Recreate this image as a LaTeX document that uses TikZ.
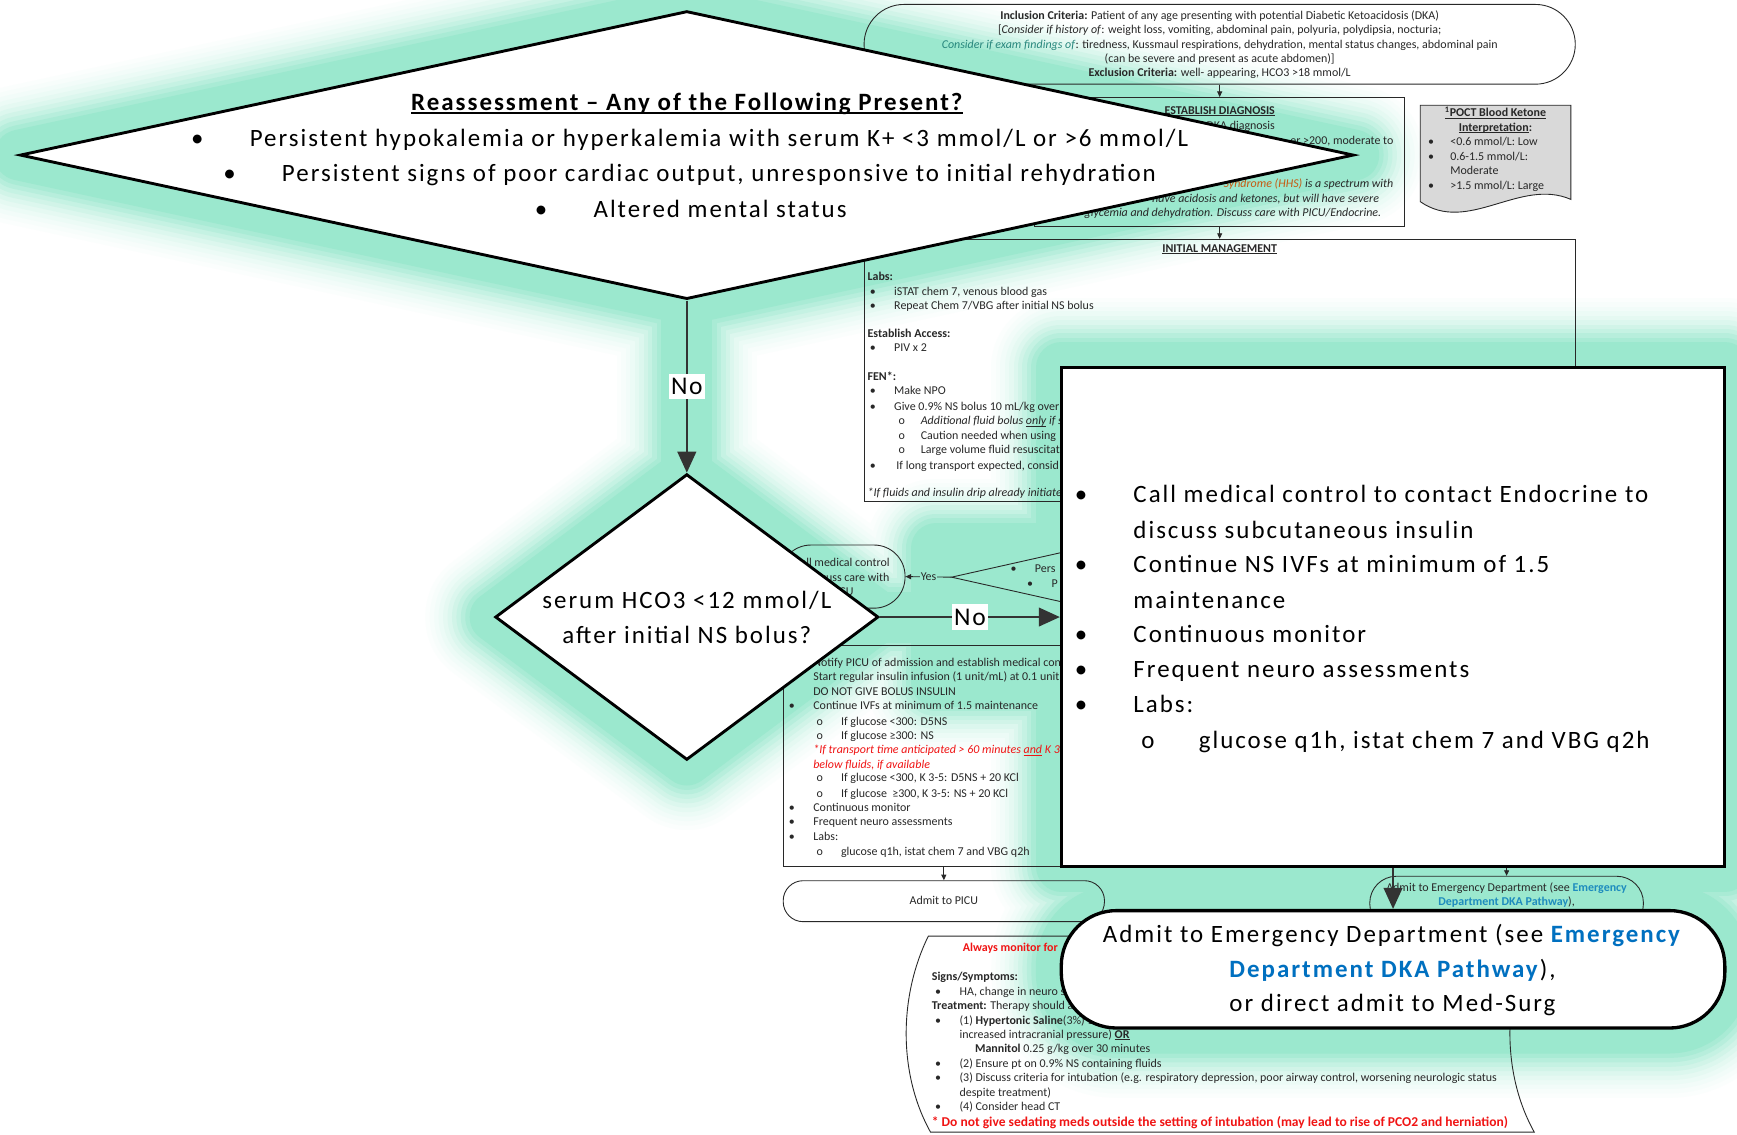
\documentclass[tikz,border=0pt]{standalone}
\usepackage{fontspec}
\setmainfont{Carlito}
\usetikzlibrary{arrows.meta,shapes.geometric}
\definecolor{mint}{RGB}{155,232,206}
\definecolor{linkblue}{RGB}{0,112,192}
\definecolor{smallblue}{RGB}{30,140,190}
\definecolor{tealtxt}{RGB}{40,135,125}
\definecolor{hhs}{RGB}{197,90,17}
\definecolor{redtxt}{RGB}{240,20,20}
\definecolor{ink}{RGB}{40,40,40}
\newcommand\ulx[1]{{\setbox0\hbox{#1}\rlap{\rule[-0.13em]{\wd0}{0.065em}}\box0}}
\newcommand\bb{\makebox[53pt][l]{\textbullet}}
\newcommand\sbb{\makebox[22pt][l]{\textbullet}}
\newcommand\sbp{\makebox[20pt][l]{\textbullet}}
\newcommand\sob{\makebox[20pt][l]{o}}
\newcommand\soc{\makebox[22pt][l]{o}}
\tikzset{
 sm/.style={font=\fontsize{10.8}{13}\selectfont, text=ink, inner sep=0pt, anchor=base west},
 smc/.style={sm, anchor=base},
 sme/.style={sm, anchor=base east},
 bg/.style={font=\fontsize{22.5}{31}\selectfont\addfontfeature{LetterSpace=8}, inner sep=0pt, anchor=base west},
 bgc/.style={bg, anchor=base},
 sbox/.style={draw=ink, line width=0.8pt, inner sep=0pt},
 sline/.style={draw=ink, line width=0.8pt},
 sarrow/.style={sline, -{Triangle[length=5pt,width=4.5pt]}},
 bigshape/.style={draw=black, line width=2.6pt, fill=white, inner sep=0pt},
 barrow/.style={draw=black!80, line width=1.4pt, -{Triangle[length=19pt,width=17pt]}},
 nolabel/.style={fill=white, font=\fontsize{23}{28}\selectfont\addfontfeature{LetterSpace=7}, inner xsep=2pt, inner ysep=4pt},
}
\begin{document}
\begin{tikzpicture}[x=1pt,y=-1pt]
\useasboundingbox[fill=white] (0,0) rectangle (1568,1024);

% ---------- glow ----------
\foreach \gw/\gc in {126/4,118/8,110/13,102/19,94/26,86/35,78/46,70/58,62/72,54/86,46/100}{
 \begin{scope}[draw=mint!\gc, line width=\gw pt, line join=round, line cap=round]
  \draw (620,10)--(1222,140)--(620,270)--(18,140)--cycle;
  \draw (620,270)--(620,428);
  \draw (620,428)--(793,557)--(620,686)--(447,557)--cycle;
  \draw (793,557)--(958,557);
  \draw (958,332) rectangle (1557,782);
  \draw (1257,782)--(1257,822);
  \draw[rounded corners=50pt] (958,822) rectangle (1557,928);
  \draw (845,495) rectangle (958,615);
 \end{scope}
}
\fill[mint] (845,495) rectangle (958,615);

% ---------- small flowchart ----------
\node[sbox, rounded corners=36pt, minimum width=642pt, minimum height=72pt] (inc) at (1101,40) {};
\node[smc] (i1) at (1101,17.5) {\textbf{Inclusion Criteria:} Patient of any age presenting with potential Diabetic Ketoacidosis (DKA)};
\node[smc] (i2) at (1101,30.5) {[\textit{Consider if history of}: weight loss, vomiting, abdominal pain, polyuria, polydipsia, nocturia;};
\node[smc] (i3) at (1101,43.5) {\textcolor{tealtxt}{\textit{Consider if exam findings of}}: tiredness, Kussmaul respirations, dehydration, mental status changes, abdominal pain};
\node[smc] (i4) at (1101,56.5) {(can be severe and present as acute abdomen)]};
\node[smc] (i5) at (1101,69.5) {\textbf{Exclusion Criteria:} well- appearing, HCO3 >18 mmol/L};

\node[sbox, minimum width=334pt, minimum height=116pt] (est) at (1101,146) {};
\draw[sarrow] (inc.south) -- (est.north);
\node[smc] (d0) at (1101,103.5) {\textbf{\ulx{ESTABLISH DIAGNOSIS}}};
\node[sme] (d1) at (1151,116.5) {DKA diagnosis};
\node[sme] (d2) at (1258,130.5) {er >200, moderate to};
\node[sme] (d3) at (1258,169.5) {\textit{\textcolor{hhs}{Syndrome (HHS)} is a spectrum with}};
\node[sme] (d4) at (1245,182.5) {\textit{have acidosis and ketones, but will have severe}};
\node[sme] (d5) at (1247,195.5) {\textit{glycemia and dehydration. Discuss care with PICU/Endocrine.}};

\draw[sline, fill=black!15] (1282,95) -- (1418,95) -- (1418,180) .. controls (1372,160) and (1325,212) .. (1282,182) -- cycle;
\node[smc] (k0) at (1350,105.5) {\textbf{\ulx{\textsuperscript{1}POCT Blood Ketone}}};
\node[smc] (k1) at (1350,118.5) {\textbf{\ulx{Interpretation}:}};
\node[sm] (k2) at (1289,131.5) {\sbp<0.6 mmol/L: Low};
\node[sm] (k3) at (1289,144.5) {\sbp 0.6-1.5 mmol/L:};
\node[sm] (k4) at (1309,157.5) {Moderate};
\node[sm] (k5) at (1289,171.5) {\sbp>1.5 mmol/L: Large};

\node[sbox, minimum width=642pt, minimum height=237pt] (init) at (1101,334.5) {};
\draw[sarrow] (est.south) -- (init.north);
\node[smc] (m0) at (1101,227.5) {\textbf{\ulx{INITIAL MANAGEMENT}}};
\node[sm] (m1) at (783,253.5) {\textbf{Labs:}};
\node[sm] (m2) at (785,266.5) {\sbb iSTAT chem 7, venous blood gas};
\node[sm] (m3) at (785,279.5) {\sbb Repeat Chem 7/VBG after initial NS bolus};
\node[sm] (m4) at (783,304.5) {\textbf{Establish Access:}};
\node[sm] (m5) at (785,317.5) {\sbb PIV x 2};
\node[sm] (m6) at (783,343.5) {\textbf{FEN*:}};
\node[sm] (m7) at (785,356.5) {\sbb Make NPO};
\node[sm] (m8) at (785,370.5) {\sbb Give 0.9\% NS bolus 10 mL/kg over};
\node[sm] (m9) at (811,383.5) {\sob\textit{Additional fluid bolus \ulx{only} if s}};
\node[sm] (m10) at (811,396.5) {\sob Caution needed when using};
\node[sm] (m11) at (811,409.5) {\sob Large volume fluid resuscitat};
\node[sm] (m12) at (785,423.5) {\makebox[24pt][l]{\textbullet}If long transport expected, consid};
\node[sm] (m13) at (783,448.5) {\textit{*If fluids and insulin drip already initiate}};

\coordinate (sdv) at (859,521);
\draw[sline] (1000,489.4) -- (sdv) -- (1000,552.6);
\node[sm] (s1) at (912,516.5) {\sbb Pers};
\node[sm] (s2) at (927,530.5) {\sbb P};
\node[sbox, rounded corners=28pt, minimum width=113pt, minimum height=57pt] (callp) at (760.5,520.5) {};
\node[smc] (cp1) at (760,511.5) {Call medical control};
\node[smc] (cp2) at (760,524.5) {to discuss care with};
\node[smc] (cp3) at (760,537.5) {PICU};
\draw[sarrow] (sdv) -- node[sm, anchor=center, fill=mint, inner sep=1pt] (yes) {Yes} (callp.east);

\node[sbox, minimum width=290pt, minimum height=199pt] (picu) at (852,682.5) {};
\node[sm] (p1) at (734,601.5) {Notify PICU of admission and establish medical con};
\node[sm] (p2) at (734,614.5) {Start regular insulin infusion (1 unit/mL) at 0.1 unit};
\node[sm] (p3) at (734,627.5) {DO NOT GIVE BOLUS INSULIN};
\node[sm] (p4) at (712,640.5) {\sbb Continue IVFs at minimum of 1.5 maintenance};
\node[sm] (p5) at (737,654.5) {\soc If glucose <300: D5NS};
\node[sm] (p6) at (737,667.5) {\soc If glucose ≥300: NS};
\node[sm, text=redtxt] (p7) at (734,680.5) {\textit{*If transport time anticipated > 60 minutes \ulx{and} K 3}};
\node[sm, text=redtxt] (p8) at (734,693.5) {\textit{below fluids, if available}};
\node[sm] (p9) at (737,705.5) {\soc If glucose <300, K 3-5: D5NS + 20 KCl};
\node[sm] (p10) at (737,719.5) {\soc If glucose \ ≥300, K 3-5: NS + 20 KCl};
\node[sm] (p11) at (712,732.5) {\sbb Continuous monitor};
\node[sm] (p12) at (712,745.5) {\sbb Frequent neuro assessments};
\node[sm] (p13) at (712,758.5) {\sbb Labs:};
\node[sm] (p14) at (737,772.5) {\soc glucose q1h, istat chem 7 and VBG q2h};

\node[sbox, rounded corners=18pt, minimum width=290pt, minimum height=37pt] (apicu) at (852,813.5) {};
\draw[sarrow] (picu.south) -- (apicu.north);
\node[smc] (ap) at (852,816.5) {Admit to PICU};

\coordinate (edin) at (1360,782);
\node[sbox, rounded corners=24pt, minimum width=247pt, minimum height=49pt] (eds) at (1360,815.5) {};
\draw[sarrow] (edin) -- (eds.north);
\node[smc] (ed1) at (1360,804.5) {Admit to Emergency Department (see \textcolor{smallblue}{\textbf{Emergency}}};
\node[smc] (ed2) at (1360,817.5) {\textcolor{smallblue}{\textbf{Department DKA Pathway}}),};

\draw[sline] (838,845) -- (1383,845) .. controls (1356,900) and (1356,970) .. (1385,1022) -- (840,1022) .. controls (811,970) and (811,900) .. (838,845) -- cycle;
\node[sm, text=redtxt] (c0) at (869,858.5) {\textbf{Always monitor for}};
\node[sm] (c1) at (841,885.5) {\textbf{Signs/Symptoms:}};
\node[sm] (c2) at (844,898.5) {\sbb HA, change in neuro status};
\node[sm] (c3) at (841,911.5) {\textbf{Treatment:} Therapy should a};
\node[sm] (c4) at (844,924.5) {\sbb(1) \textbf{Hypertonic Saline}(3\%) 1};
\node[sm] (c5) at (866,937.5) {increased intracranial pressure) \textbf{\ulx{OR}}};
\node[sm] (c6) at (880,950.5) {\textbf{Mannitol} 0.25 g/kg over 30 minutes};
\node[sm] (c7) at (844,963.5) {\sbb(2) Ensure pt on 0.9\% NS containing fluids};
\node[sm] (c8) at (844,976.5) {\sbb(3) Discuss criteria for intubation (e.g. respiratory depression, poor airway control, worsening neurologic status};
\node[sm] (c9) at (866,989.5) {despite treatment)};
\node[sm] (c10) at (844,1002.5) {\sbb(4) Consider head CT};
\node[sm, text=redtxt, font=\fontsize{12.2}{13}\selectfont] (c11) at (841,1016.8) {\textbf{* Do not give sedating meds outside the setting of intubation (may lead to rise of PCO2 and herniation)}};

% ---------- enlarged elements ----------
\node[bigshape, shape=diamond, minimum width=1204pt, minimum height=260pt] (rd) at (620,140) {};
\node[bgc] (rt0) at (620,100) {\textbf{\ulx{Reassessment – Any of the Following Present?}}};
\node[bgc] (rt1) at (622.5,132) {\bb Persistent hypokalemia or hyperkalemia with serum K+ <3 mmol/L or >6 mmol/L};
\node[bgc] (rt2) at (622.5,164) {\bb Persistent signs of poor cardiac output, unresponsive to initial rehydration};
\node[bgc] (rt3) at (623.5,196) {\bb Altered mental status};

\node[bigshape, shape=diamond, minimum width=346pt, minimum height=258pt] (hd) at (620,557) {};
\node[bgc] (ht1) at (620,549) {serum HCO3 <12 mmol/L};
\node[bgc] (ht2) at (620,581) {after initial NS bolus?};
\draw[barrow] (rd.south) -- node[nolabel] (no1) {No} (hd.north);

\node[bigshape, minimum width=599pt, minimum height=450pt] (rb) at (1257.5,557) {};
\draw[barrow] (hd.east) -- node[nolabel] (no2) {No} (rb.west);
\node[bg] (r1) at (970,454) {\bb Call medical control to contact Endocrine to};
\node[bg] (r2) at (1023,486) {discuss subcutaneous insulin};
\node[bg] (r3) at (970,517) {\bb Continue NS IVFs at minimum of 1.5};
\node[bg] (r4) at (1023,549) {maintenance};
\node[bg] (r5) at (970,580) {\bb Continuous monitor};
\node[bg] (r6) at (970,612) {\bb Frequent neuro assessments};
\node[bg] (r7) at (970,643) {\bb Labs:};
\node[bg] (r8) at (1030,676) {\makebox[52pt][l]{o}glucose q1h, istat chem 7 and VBG q2h};

\node[bigshape, line width=3pt, rounded corners=50pt, minimum width=599pt, minimum height=106pt] (eb) at (1257.5,875) {};
\draw[barrow] (rb.south) -- (eb.north);
\node[bgc] (e1) at (1257,851) {Admit to Emergency Department (see \textcolor{linkblue}{\textbf{Emergency}}};
\node[bgc] (e2) at (1257,882) {\textcolor{linkblue}{\textbf{Department DKA Pathway}}),};
\node[bgc] (e3) at (1257,913) {or direct admit to Med-Surg};
\end{tikzpicture}
\end{document}
